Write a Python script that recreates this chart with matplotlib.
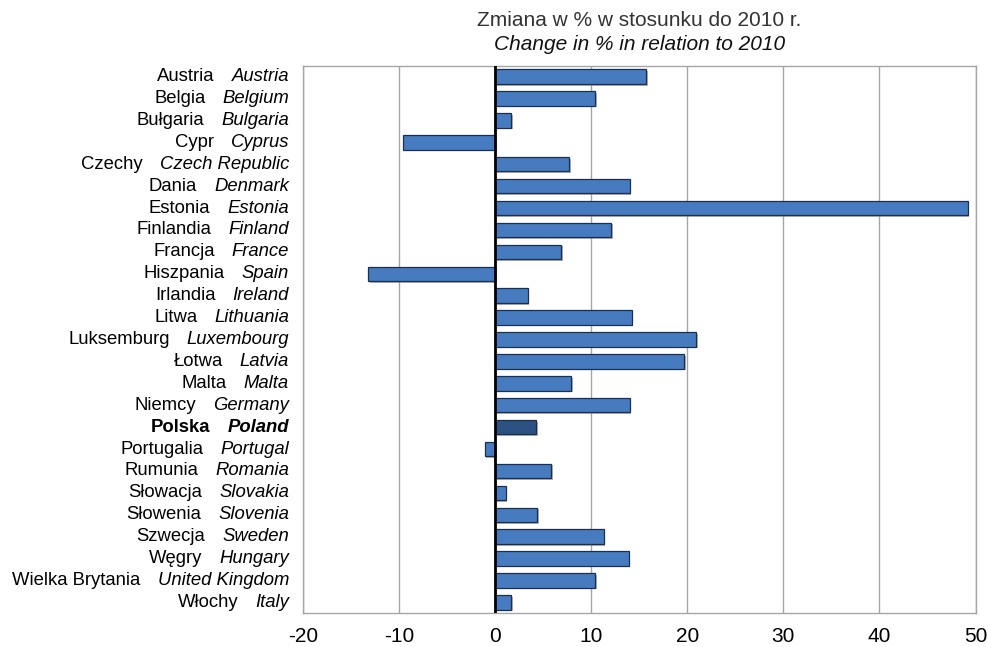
import matplotlib
matplotlib.use("Agg")
import matplotlib.pyplot as plt
import matplotlib.patheffects as pe
from matplotlib.transforms import blended_transform_factory, offset_copy

plt.rcParams['font.family'] = ['Liberation Sans', 'DejaVu Sans']

names_pl = ["Austria", "Belgia", "Bułgaria", "Cypr", "Czechy", "Dania", "Estonia",
            "Finlandia", "Francja", "Hiszpania", "Irlandia", "Litwa", "Luksemburg",
            "Łotwa", "Malta", "Niemcy", "Polska", "Portugalia", "Rumunia", "Słowacja",
            "Słowenia", "Szwecja", "Węgry", "Wielka Brytania", "Włochy"]
names_en = ["Austria", "Belgium", "Bulgaria", "Cyprus", "Czech Republic", "Denmark",
            "Estonia", "Finland", "France", "Spain", "Ireland", "Lithuania",
            "Luxembourg", "Latvia", "Malta", "Germany", "Poland", "Portugal", "Romania",
            "Slovakia", "Slovenia", "Sweden", "Hungary", "United Kingdom", "Italy"]
change_pct = [15.7, 10.4, 1.7, -9.6, 7.7, 14.0, 49.2, 12.1, 6.9, -13.2, 3.4, 14.2,
              20.9, 19.7, 7.9, 14.0, 4.3, -1.1, 5.8, 1.1, 4.4, 11.3, 13.9, 10.4, 1.7]
highlight = "Polska"
x_ticks = [-20, -10, 0, 10, 20, 30, 40, 50]

W, H = 988, 647
fig = plt.figure(figsize=(W / 100, H / 100), dpi=100)
ax = fig.add_axes([303 / W, 1 - 613.3 / H, (975.5 - 303) / W, (613.3 - 65.7) / H])

n = len(names_pl)
ypos = list(range(n))
colors = ["#2c5282" if p == highlight else "#467bbf" for p in names_pl]
bars = ax.barh(ypos, change_pct, height=0.66, color=colors, edgecolor="#1b2f4f",
               linewidth=0.9, zorder=3)
for b in bars:
    b.set_path_effects([pe.SimplePatchShadow(offset=(1.2, -1.2), shadow_rgbFace="#808080",
                                             alpha=0.6), pe.Normal()])

ax.set_xlim(-20, 50)
ax.set_ylim(n - 0.5, -0.5)
ax.set_xticks(x_ticks)
ax.set_xticklabels([str(t) for t in x_ticks], fontsize=15)
ax.tick_params(axis="x", length=0, pad=10)
ax.set_yticks([])
ax.grid(axis="x", color="#a6a6a6", linewidth=1.0, zorder=0)
ax.axvline(0, color="black", linewidth=2.0, zorder=4)
for s in ax.spines.values():
    s.set_color("#a6a6a6")
    s.set_linewidth(1.0)

# two-part category labels: Polish name, then English name in italics
fig.canvas.draw()
renderer = fig.canvas.get_renderer()
trans = blended_transform_factory(fig.transFigure, ax.transData)
x_right = 289 / W
gap_px = 17
for i, (pl, en) in enumerate(zip(names_pl, names_en)):
    weight = "bold" if pl == highlight else "normal"
    t_en = fig.text(x_right, i, en, transform=trans, ha="right", va="center",
                    fontsize=13.3, style="italic", weight=weight)
    wpx = t_en.get_window_extent(renderer).width
    tr2 = offset_copy(trans, fig=fig, x=-(wpx + gap_px) * 72 / 100, y=0, units="points")
    fig.text(x_right, i, pl, transform=tr2, ha="right", va="center",
             fontsize=13.3, weight=weight)

xc = (303 + 975.5) / 2 / W
fig.text(xc, 1 - 21 / H, "Zmiana w % w stosunku do 2010 r.", ha="center", va="center",
         fontsize=15, color="#333333")
fig.text(xc, 1 - 44 / H, "Change in % in relation to 2010", ha="center", va="center",
         fontsize=15, style="italic", color="#111111")

fig.savefig("out.png", dpi=100)
